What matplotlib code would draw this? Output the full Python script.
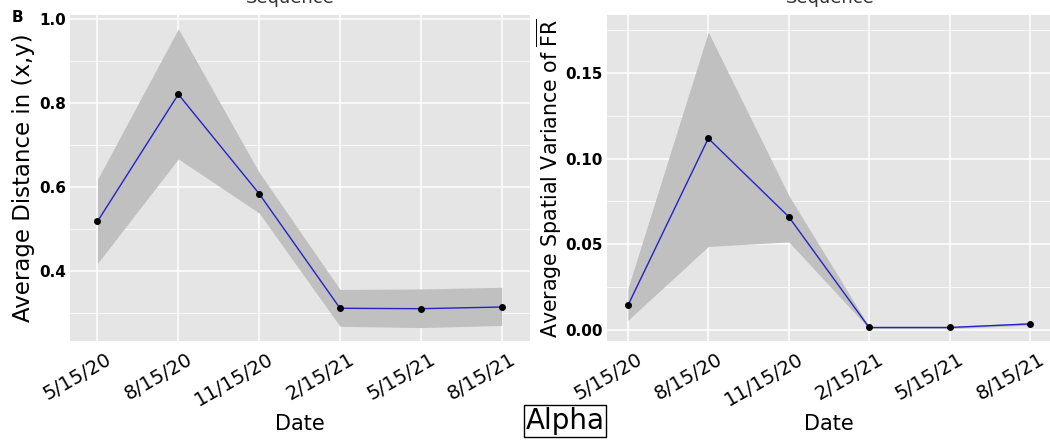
import matplotlib.pyplot as plt
import matplotlib.transforms as mtransforms
import numpy as np
from matplotlib.ticker import MultipleLocator

# dates on the x axis (3 month steps)
dates = ['5/15/20', '8/15/20', '11/15/20', '2/15/21', '5/15/21', '8/15/21']

# left panel: average distance in (x,y)
dist_mean = [0.518, 0.821, 0.584, 0.311, 0.310, 0.314]
dist_lo = [0.418, 0.667, 0.538, 0.268, 0.265, 0.270]
dist_hi = [0.618, 0.977, 0.635, 0.356, 0.357, 0.361]

# right panel: average spatial variance of FR
var_mean = [0.0141, 0.1118, 0.0660, 0.0012, 0.0012, 0.0033]
var_lo = [0.0054, 0.0486, 0.0513, 0.0006, 0.0006, 0.0026]
var_hi = [0.0240, 0.1740, 0.0785, 0.0018, 0.0018, 0.0040]

x = np.arange(len(dates))

fig = plt.figure(figsize=(10.5, 4.4), dpi=100)
ax1 = fig.add_axes([70 / 1050, 99 / 440, 460 / 1050, 326 / 440])
ax2 = fig.add_axes([607 / 1050, 99 / 440, 443 / 1050, 326 / 440])


def style(ax, mean, lo, hi, major, minor):
    ax.set_facecolor('#e5e5e5')
    ax.fill_between(x, lo, hi, color='#c0c0c0', lw=0, zorder=2)
    ax.plot(x, mean, color='#2323c8', lw=1.0, zorder=3)
    ax.scatter(x, mean, s=16, color='black', zorder=4)
    ax.set_xticks(x)
    ax.set_xticklabels(dates, rotation=30, ha='right', rotation_mode='anchor', fontsize=14)
    ax.yaxis.set_major_locator(MultipleLocator(major))
    ax.yaxis.set_minor_locator(MultipleLocator(minor))
    ax.grid(which='major', color='white', lw=1.1, zorder=1)
    ax.grid(which='minor', axis='y', color='white', lw=0.5, zorder=1)
    ax.set_axisbelow(True)
    for s in ax.spines.values():
        s.set_visible(False)
    ax.tick_params(which='both', length=0)
    ax.tick_params(axis='x', pad=6)
    ax.tick_params(axis='y', pad=3)
    for t in ax.get_yticklabels():
        t.set_fontweight('bold')
        t.set_fontsize(11)
    ax.set_xlabel('Date', fontsize=15, labelpad=3)


style(ax1, dist_mean, dist_lo, dist_hi, 0.2, 0.1)
ax1.set_xlim(-0.34, 5.35)
ax1.set_ylim(0.233, 1.01)
ax1.yaxis.set_major_formatter(plt.FormatStrFormatter('%.1f'))
ax1.set_ylabel('Average Distance in (x,y)', fontsize=16.5, labelpad=3)

style(ax2, var_mean, var_lo, var_hi, 0.05, 0.025)
ax2.set_xlim(-0.26, 5.25)
ax2.set_ylim(-0.0067, 0.184)
ax2.yaxis.set_major_formatter(plt.FormatStrFormatter('%.2f'))
ax2.set_ylabel(r'Average Spatial Variance of $\overline{\mathrm{FR}}$', fontsize=14.8, labelpad=1)

# nudge the rotated date labels a little to the right (as in the original)
shift = mtransforms.ScaledTranslation(8 / 100, 0, fig.dpi_scale_trans)
for ax in (ax1, ax2):
    for tick in ax.xaxis.get_major_ticks():
        tick.label1.set_transform(tick.label1.get_transform() + shift)

# cut-off titles at the top
fig.text(290 / 1050, 1 - 3 / 440, 'Sequence', ha='center', va='baseline', fontsize=13, color='#333333')
fig.text(830 / 1050, 1 - 3 / 440, 'Sequence', ha='center', va='baseline', fontsize=13, color='#333333')

fig.text(12 / 1050, 1 - 18 / 440, 'B', fontsize=11, fontweight='bold', va='center', ha='left')

fig.text(565 / 1050, 1 - 421 / 440, 'Alpha', fontsize=20, ha='center', va='center',
         bbox=dict(facecolor='white', edgecolor='black', lw=1, pad=1.5))

fig.savefig('out.png', dpi=100)
